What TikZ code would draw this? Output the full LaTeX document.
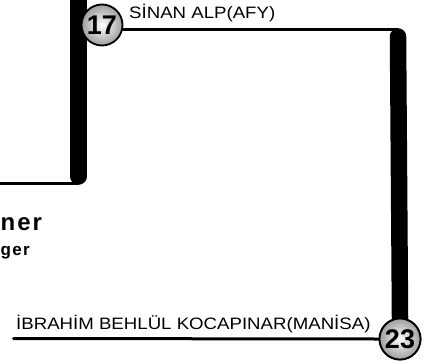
\documentclass[tikz,border=0pt]{standalone}
\usepackage{fontspec}
\setmainfont{Liberation Sans}
\newfontfamily\widefont[FakeStretch=1.13]{Liberation Sans}
\newfontfamily\spacedfont[LetterSpace=8]{Liberation Sans}
\usepackage{tikz}
\usetikzlibrary{arrows.meta, calc, positioning}
\usepackage{xcolor}
\definecolor{RichBlack}{gray}{0.0}
\definecolor{StopShade}{gray}{0.62}
\tikzset{%
  rail_thick/.style={%
    draw=RichBlack,%
    line width=16.5pt,%
    line cap=round,%
  },
  rail_thin/.style={%
    draw=RichBlack,%
    line width=3pt,%
    line cap=round,%
  },
  stop/.style={%
    circle,%
    draw=RichBlack,%
    line width=1.8pt,%
    inner color=white,%
    outer color=StopShade,%
    minimum size=41pt,%
    inner sep=0pt,%
    font={\bfseries\fontsize{27}{27}\selectfont},%
  },
  station/.style={%
    anchor=base west,%
    inner sep=0pt,%
    font={\widefont\fontsize{16.5}{16.5}\selectfont},%
  },
  tagline/.style={%
    anchor=base west,%
    inner sep=0pt,%
    font={\spacedfont\bfseries},%
  },
}
\begin{document}
\begin{tikzpicture}[x=1pt, y=-1pt]
  \useasboundingbox (0,0) rectangle (430,361);

  % left branch
  \coordinate (Ltop) at (78.5,-12);
  \coordinate (Lbot) at (78.5,176.5);
  \coordinate (Lend) at (-5,183);
  \draw[rail_thick] (Ltop) -- (Lbot);
  \draw[rail_thin] (Lend) -- (Lend -| Lbot);

  % right branch
  \coordinate (Rtop) at (398,36.5);
  \coordinate (Bend) at (13.5,338.5);

  \node[stop] (S23) at (400,339) {23};
  \draw[rail_thick] (Rtop) -- (S23.north);
  \draw[rail_thin] (S23.west) -- (Bend);
  \node[stop] (S17) at (102,25) {17};
  \draw[rail_thin] (S17.-12) -- (S17.-12 -| Rtop);
  \node[stop] at (S23) {23};

  % station names
  \node[station] (L17) at (129,18.5) {SİNAN ALP(AFY)};
  \node[station] (L23) at (16,329) {İBRAHİM BEHLÜL KOCAPINAR(MANİSA)};

  % cut-off title
  \node[tagline, font={\spacedfont\bfseries\fontsize{24}{24}\selectfont}] (T1) at (0.5,230) {ner};
  \node[tagline, font={\spacedfont\bfseries\fontsize{17}{17}\selectfont}] (T2) at (0.5,255) {ger};

\end{tikzpicture}
\end{document}
